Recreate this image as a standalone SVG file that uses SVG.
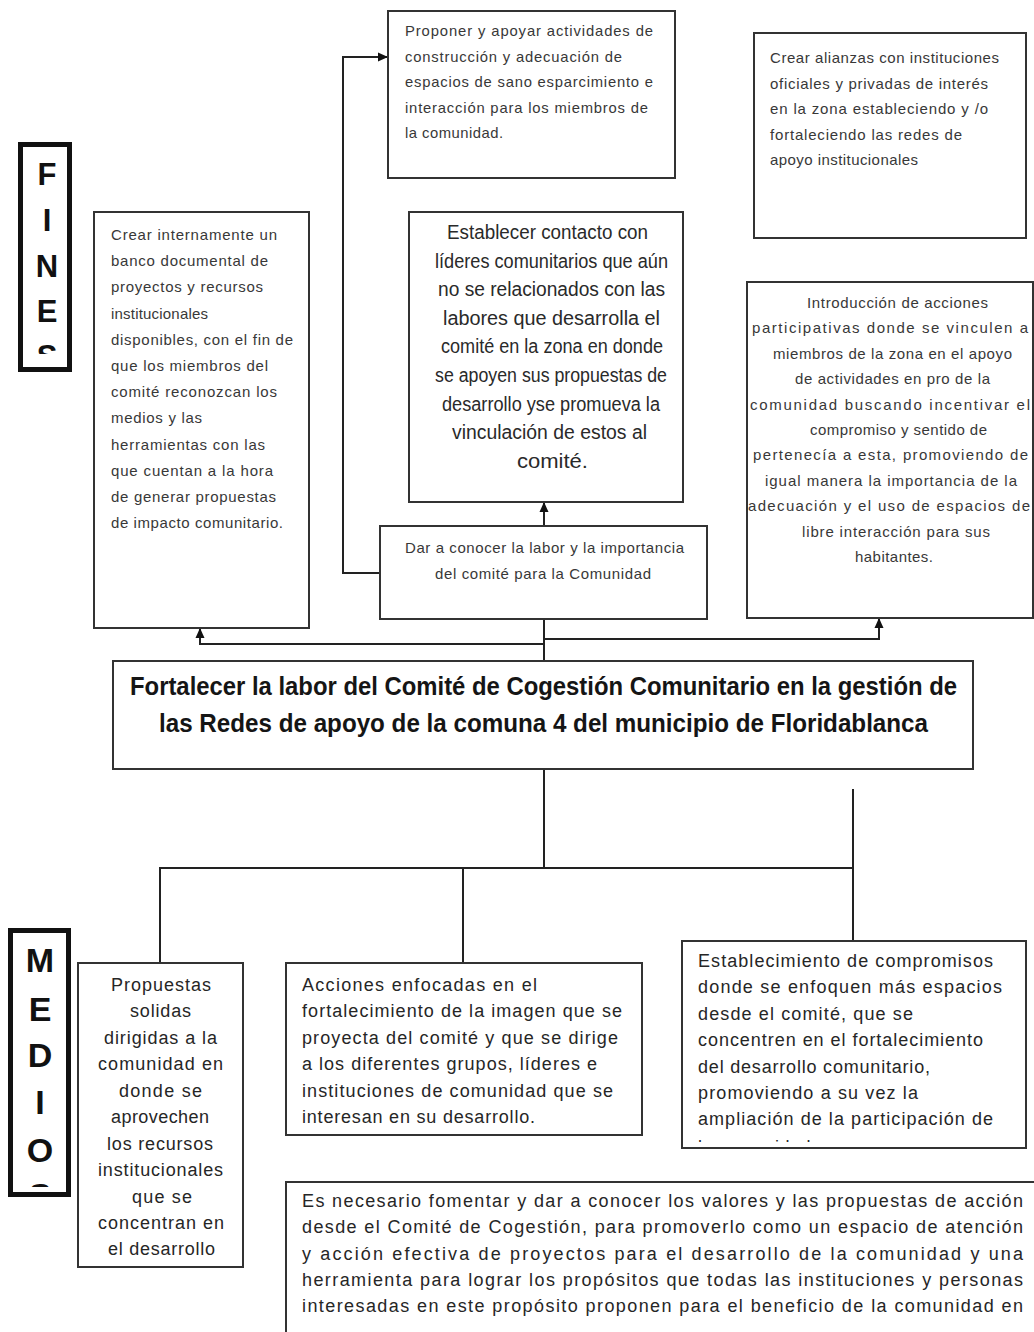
<svg xmlns="http://www.w3.org/2000/svg" width="1034" height="1332" viewBox="0 0 1034 1332">
<style>
.bg{fill:#fff}
.box{fill:#fff;stroke:#333;stroke-width:2}
.lbl{fill:#fff;stroke:#111;stroke-width:5}
.conn{fill:none;stroke:#222;stroke-width:2}
.t{font-family:"Liberation Sans",Arial,sans-serif;fill:#383838;font-size:15px}
.a{font-size:14.8px}
.c{font-size:20px;fill:#2a2a2a}
.m{font-family:"Liberation Sans",Arial,sans-serif;font-weight:bold;font-size:25px;fill:#151515}
.b{font-family:"Liberation Sans",Arial,sans-serif;font-size:18px;fill:#262626}
.big{font-family:"Liberation Sans",Arial,sans-serif;font-weight:bold;fill:#111;text-anchor:middle}
</style>
<defs>
<marker id="arr" markerUnits="userSpaceOnUse" markerWidth="10" markerHeight="10" refX="10" refY="5" orient="auto">
<path d="M0,0.5 L10,5 L0,9.5 z" fill="#111"/>
</marker>
<clipPath id="clipF"><rect x="18" y="142" width="54" height="212"/></clipPath>
<clipPath id="clipM"><rect x="8" y="928" width="63" height="259"/></clipPath>
<clipPath id="clipE"><rect x="682" y="941" width="344" height="201"/></clipPath>
</defs>
<rect class="bg" x="0" y="0" width="1034" height="1332"/>

<g id="connectors">
<path class="conn" d="M380,573 H343 V57 H388" marker-end="url(#arr)"/>
<path class="conn" d="M544,526 V502" marker-end="url(#arr)"/>
<path class="conn" d="M544,619 V661"/>
<path class="conn" d="M544,644 H200 V628" marker-end="url(#arr)"/>
<path class="conn" d="M544,639 H879 V618" marker-end="url(#arr)"/>
<path class="conn" d="M544,769 V868"/>
<path class="conn" d="M160,963 V868 H853"/>
<path class="conn" d="M853,789 V941"/>
<path class="conn" d="M463,868 V963"/>
</g>

<g id="fines">
<rect class="lbl" x="20.5" y="144.5" width="49" height="225"/>
<g clip-path="url(#clipF)" class="big" font-size="31">
<text x="47" y="185">F</text>
<text x="47" y="231">I</text>
<text x="47" y="277">N</text>
<text x="47" y="322">E</text>
<text x="47" y="367">S</text>
</g>
</g>

<g id="medio">
<rect class="lbl" x="10.5" y="930.5" width="58" height="264"/>
<g clip-path="url(#clipM)" class="big" font-size="34">
<text x="40" y="972">M</text>
<text x="40" y="1021">E</text>
<text x="40" y="1067">D</text>
<text x="40" y="1114">I</text>
<text x="40" y="1162">O</text>
<text x="40" y="1207">S</text>
</g>
</g>

<g id="node-proponer">
<rect class="box" x="388" y="11" width="287" height="167"/>
<text class="t a" x="405" y="36" textLength="248" lengthAdjust="spacing">Proponer y apoyar actividades de</text>
<text class="t a" x="405" y="62" textLength="217" lengthAdjust="spacing">construcción y adecuación de</text>
<text class="t a" x="405" y="87" textLength="248" lengthAdjust="spacing">espacios de sano esparcimiento e</text>
<text class="t a" x="405" y="113" textLength="243" lengthAdjust="spacing">interacción para los miembros de</text>
<text class="t a" x="405" y="138" textLength="98" lengthAdjust="spacing">la comunidad.</text>
</g>

<g id="node-crear-internamente">
<rect class="box" x="94" y="212" width="215" height="416"/>
<text class="t" x="111" y="240" textLength="166" lengthAdjust="spacing">Crear internamente un</text>
<text class="t" x="111" y="266" textLength="157" lengthAdjust="spacing">banco documental de</text>
<text class="t" x="111" y="292" textLength="152" lengthAdjust="spacing">proyectos y recursos</text>
<text class="t" x="111" y="319" textLength="97" lengthAdjust="spacing">institucionales</text>
<text class="t" x="111" y="345" textLength="182" lengthAdjust="spacing">disponibles, con el fin de</text>
<text class="t" x="111" y="371" textLength="157" lengthAdjust="spacing">que los miembros del</text>
<text class="t" x="111" y="397" textLength="166" lengthAdjust="spacing">comité reconozcan los</text>
<text class="t" x="111" y="423" textLength="91" lengthAdjust="spacing">medios y las</text>
<text class="t" x="111" y="450" textLength="154" lengthAdjust="spacing">herramientas con las</text>
<text class="t" x="111" y="476" textLength="162" lengthAdjust="spacing">que cuentan a la hora</text>
<text class="t" x="111" y="502" textLength="165" lengthAdjust="spacing">de generar propuestas</text>
<text class="t" x="111" y="528" textLength="172" lengthAdjust="spacing">de impacto comunitario.</text>
</g>

<g id="node-establecer">
<rect class="box" x="409" y="212" width="274" height="290"/>
<text class="t c" x="447" y="239" textLength="201" lengthAdjust="spacingAndGlyphs">Establecer contacto con</text>
<text class="t c" x="435" y="268" textLength="233" lengthAdjust="spacingAndGlyphs">líderes comunitarios que aún</text>
<text class="t c" x="438" y="296" textLength="227" lengthAdjust="spacingAndGlyphs">no se relacionados con las</text>
<text class="t c" x="443" y="325" textLength="217" lengthAdjust="spacingAndGlyphs">labores que desarrolla el</text>
<text class="t c" x="441" y="353" textLength="222" lengthAdjust="spacingAndGlyphs">comité en la zona en donde</text>
<text class="t c" x="435" y="382" textLength="232" lengthAdjust="spacingAndGlyphs">se apoyen sus propuestas de</text>
<text class="t c" x="442" y="411" textLength="218" lengthAdjust="spacingAndGlyphs">desarrollo yse promueva la</text>
<text class="t c" x="452" y="439" textLength="195" lengthAdjust="spacingAndGlyphs">vinculación de estos al</text>
<text class="t c" x="517" y="468" textLength="71" lengthAdjust="spacingAndGlyphs">comité.</text>
</g>

<g id="node-dar-a-conocer">
<rect class="box" x="380" y="526" width="327" height="93"/>
<text class="t" x="405" y="553" textLength="279" lengthAdjust="spacing">Dar a conocer la labor y la importancia</text>
<text class="t" x="435" y="579" textLength="216" lengthAdjust="spacing">del comité para la Comunidad</text>
</g>

<g id="node-crear-alianzas">
<rect class="box" x="754" y="33" width="272" height="205"/>
<text class="t" x="770" y="63" textLength="229" lengthAdjust="spacing">Crear alianzas con instituciones</text>
<text class="t" x="770" y="89" textLength="218" lengthAdjust="spacing">oficiales y privadas de interés</text>
<text class="t" x="770" y="114" textLength="218" lengthAdjust="spacing">en la zona estableciendo y /o</text>
<text class="t" x="770" y="140" textLength="192" lengthAdjust="spacing">fortaleciendo las redes de</text>
<text class="t" x="770" y="165" textLength="148" lengthAdjust="spacing">apoyo institucionales</text>
</g>

<g id="node-introduccion">
<rect class="box" x="747" y="282" width="286" height="336"/>
<text class="t" x="807" y="308" textLength="181" lengthAdjust="spacing">Introducción de acciones</text>
<text class="t" x="752" y="333" textLength="276" lengthAdjust="spacing">participativas donde se vinculen a</text>
<text class="t" x="773" y="359" textLength="239" lengthAdjust="spacing">miembros de la zona en el apoyo</text>
<text class="t" x="795" y="384" textLength="195" lengthAdjust="spacing">de actividades en pro de la</text>
<text class="t" x="750" y="410" textLength="280" lengthAdjust="spacing">comunidad buscando incentivar el</text>
<text class="t" x="810" y="435" textLength="177" lengthAdjust="spacing">compromiso y sentido de</text>
<text class="t" x="753" y="460" textLength="275" lengthAdjust="spacing">pertenecía a esta, promoviendo de</text>
<text class="t" x="765" y="486" textLength="252" lengthAdjust="spacing">igual manera la importancia de la</text>
<text class="t" x="748" y="511" textLength="282" lengthAdjust="spacing">adecuación y el uso de espacios de</text>
<text class="t" x="802" y="537" textLength="188" lengthAdjust="spacing">libre interacción para sus</text>
<text class="t" x="855" y="562" textLength="78" lengthAdjust="spacing">habitantes.</text>
</g>

<g id="node-fortalecer">
<rect class="box" x="113" y="661" width="860" height="108"/>
<text class="m" x="130" y="695" textLength="827" lengthAdjust="spacingAndGlyphs">Fortalecer la labor del Comité de Cogestión Comunitario en la gestión de</text>
<text class="m" x="159" y="732" textLength="769" lengthAdjust="spacingAndGlyphs">las Redes de apoyo de la comuna 4 del municipio de Floridablanca</text>
</g>

<g id="node-propuestas">
<rect class="box" x="78" y="963" width="165" height="304"/>
<text class="b" x="111" y="991" textLength="100" lengthAdjust="spacing">Propuestas</text>
<text class="b" x="130" y="1017" textLength="61" lengthAdjust="spacing">solidas</text>
<text class="b" x="104" y="1044" textLength="113" lengthAdjust="spacing">dirigidas a la</text>
<text class="b" x="98" y="1070" textLength="125" lengthAdjust="spacing">comunidad en</text>
<text class="b" x="119" y="1097" textLength="83" lengthAdjust="spacing">donde se</text>
<text class="b" x="111" y="1123" textLength="98" lengthAdjust="spacing">aprovechen</text>
<text class="b" x="107" y="1150" textLength="106" lengthAdjust="spacing">los recursos</text>
<text class="b" x="98" y="1176" textLength="125" lengthAdjust="spacing">institucionales</text>
<text class="b" x="132" y="1203" textLength="60" lengthAdjust="spacing">que se</text>
<text class="b" x="98" y="1229" textLength="126" lengthAdjust="spacing">concentran en</text>
<text class="b" x="108" y="1255" textLength="107" lengthAdjust="spacing">el desarrollo</text>
</g>

<g id="node-acciones">
<rect class="box" x="286" y="963" width="356" height="172"/>
<text class="b" x="302" y="991" textLength="235" lengthAdjust="spacing">Acciones enfocadas en el</text>
<text class="b" x="302" y="1017" textLength="320" lengthAdjust="spacing">fortalecimiento de la imagen que se</text>
<text class="b" x="302" y="1044" textLength="316" lengthAdjust="spacing">proyecta del comité y que se dirige</text>
<text class="b" x="302" y="1070" textLength="295" lengthAdjust="spacing">a los diferentes grupos, líderes e</text>
<text class="b" x="302" y="1097" textLength="311" lengthAdjust="spacing">instituciones de comunidad que se</text>
<text class="b" x="302" y="1123" textLength="233" lengthAdjust="spacing">interesan en su desarrollo.</text>
</g>

<g id="node-establecimiento">
<rect class="box" x="682" y="941" width="344" height="207"/>
<text class="b" x="698" y="967" textLength="295" lengthAdjust="spacing">Establecimiento de compromisos</text>
<text class="b" x="698" y="993" textLength="304" lengthAdjust="spacing">donde se enfoquen más espacios</text>
<text class="b" x="698" y="1020" textLength="215" lengthAdjust="spacing">desde el comité, que se</text>
<text class="b" x="698" y="1046" textLength="285" lengthAdjust="spacing">concentren en el fortalecimiento</text>
<text class="b" x="698" y="1073" textLength="232" lengthAdjust="spacing">del desarrollo comunitario,</text>
<text class="b" x="698" y="1099" textLength="220" lengthAdjust="spacing">promoviendo a su vez la</text>
<text class="b" x="698" y="1125" textLength="295" lengthAdjust="spacing">ampliación de la participación de</text>
<text class="b" x="698" y="1153" clip-path="url(#clipE)" textLength="118" lengthAdjust="spacing">la comunidad.</text>
</g>

<g id="node-es-necesario">
<rect class="box" x="286" y="1182" width="760" height="200"/>
<text class="b" x="302" y="1207" textLength="721" lengthAdjust="spacing">Es necesario fomentar y dar a conocer los valores y las propuestas de acción</text>
<text class="b" x="302" y="1233" textLength="721" lengthAdjust="spacing">desde el Comité de Cogestión, para promoverlo como un espacio de atención</text>
<text class="b" x="302" y="1260" textLength="721" lengthAdjust="spacing">y acción efectiva de proyectos para el desarrollo de la comunidad y una</text>
<text class="b" x="302" y="1286" textLength="721" lengthAdjust="spacing">herramienta para lograr los propósitos que todas las instituciones y personas</text>
<text class="b" x="302" y="1312" textLength="721" lengthAdjust="spacing">interesadas en este propósito proponen para el beneficio de la comunidad en</text>
</g>
</svg>
